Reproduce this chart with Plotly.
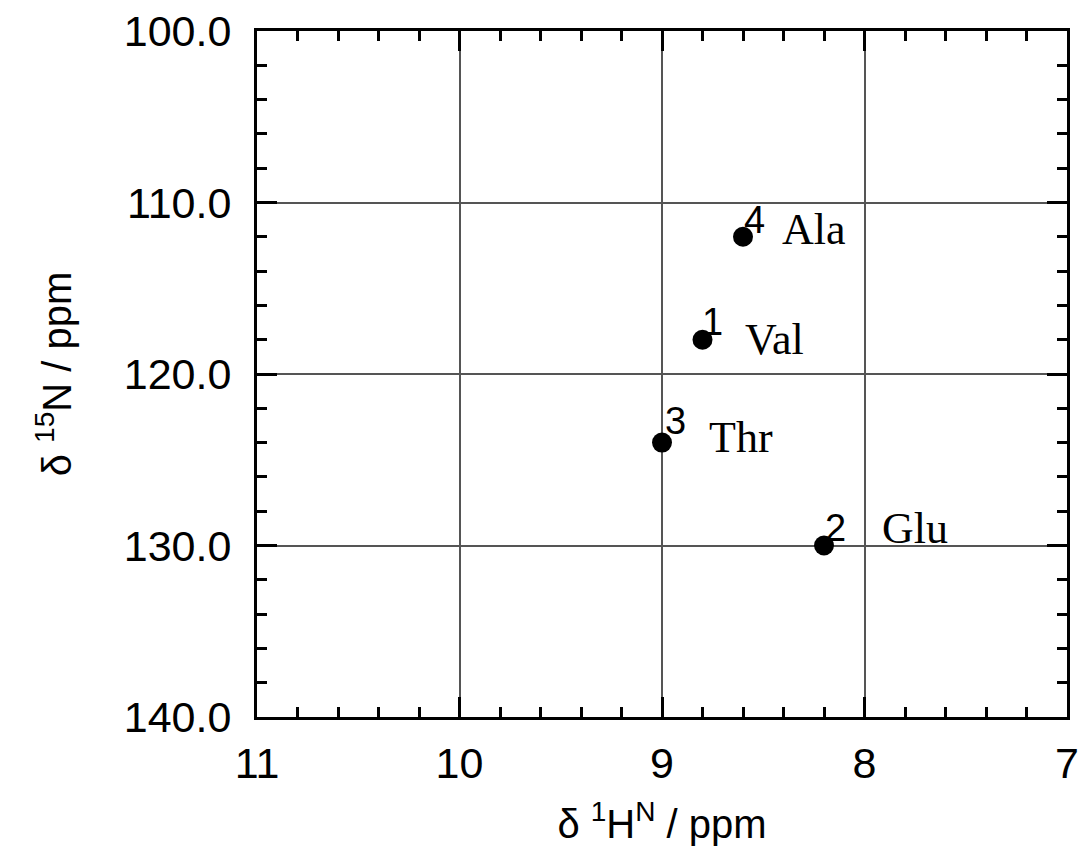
import plotly.graph_objects as go

# Data
residues = ["Ala", "Val", "Thr", "Glu"]
numbers = ["4", "1", "3", "2"]
h_ppm = [8.6, 8.8, 9.0, 8.2]
n_ppm = [112.0, 118.0, 124.0, 130.0]

x_ticks = [11, 10, 9, 8, 7]
y_ticks = [100.0, 110.0, 120.0, 130.0, 140.0]

# Styles (pixel offsets of labels relative to points)
num_shift = [(11, 17), (10, 18), (13, 22), (11, 18)]
name_shift = [(37, 7), (40, 0), (45, 5), (56, 17)]

fig = go.Figure()
fig.add_trace(go.Scatter(
    x=h_ppm, y=n_ppm, mode="markers",
    marker=dict(color="black", size=20, symbol="circle"),
    showlegend=False, hoverinfo="skip"))

for i in range(len(residues)):
    fig.add_annotation(x=h_ppm[i], y=n_ppm[i], xref="x", yref="y",
                       text=numbers[i], showarrow=False,
                       xanchor="center", yanchor="middle",
                       xshift=num_shift[i][0], yshift=num_shift[i][1],
                       font=dict(family="Liberation Sans, Arial", size=38, color="black"))
    fig.add_annotation(x=h_ppm[i], y=n_ppm[i], xref="x", yref="y",
                       text=residues[i], showarrow=False,
                       xanchor="left", yanchor="middle",
                       xshift=name_shift[i][0], yshift=name_shift[i][1],
                       font=dict(family="Liberation Serif, Times New Roman", size=44, color="black"))

axis_font = dict(family="Liberation Sans, Arial", size=43, color="black")
fig.update_xaxes(
    range=[11, 7], tickvals=x_ticks, ticktext=[str(v) for v in x_ticks],
    showline=True, linewidth=3, linecolor="black", mirror="allticks",
    ticks="inside", ticklen=20, tickwidth=3, tickcolor="black",
    ticklabelstandoff=6, automargin=False,
    showgrid=True, gridcolor="#555555", gridwidth=2, zeroline=False,
    tickfont=axis_font,
    minor=dict(dtick=0.2, ticks="inside", ticklen=10, tickwidth=3, tickcolor="black", showgrid=False),
    title=dict(text="δ <sup>1</sup>H<sup>N</sup> / ppm", font=dict(family="Liberation Sans, Arial", size=40, color="black"), standoff=25),
)
fig.update_yaxes(
    range=[140, 100], tickvals=y_ticks, ticktext=["%.1f" % v for v in y_ticks],
    showline=True, linewidth=3, linecolor="black", mirror="allticks",
    ticks="inside", ticklen=20, tickwidth=3, tickcolor="black",
    ticklabelstandoff=14, automargin=False,
    showgrid=True, gridcolor="#555555", gridwidth=2, zeroline=False,
    tickfont=axis_font,
    minor=dict(dtick=2, ticks="inside", ticklen=10, tickwidth=3, tickcolor="black", showgrid=False),
    title=dict(text="δ <sup>15</sup>N / ppm", font=dict(family="Liberation Sans, Arial", size=40, color="black"), standoff=40),
)

fig.update_layout(
    width=1084, height=863,
    margin=dict(l=257, r=17, t=31, b=146),
    plot_bgcolor="white", paper_bgcolor="white",
)

fig.write_html("out.html", config={"displayModeBar": False},
               post_script="document.body.style.margin='0';document.body.style.overflow='hidden';")
